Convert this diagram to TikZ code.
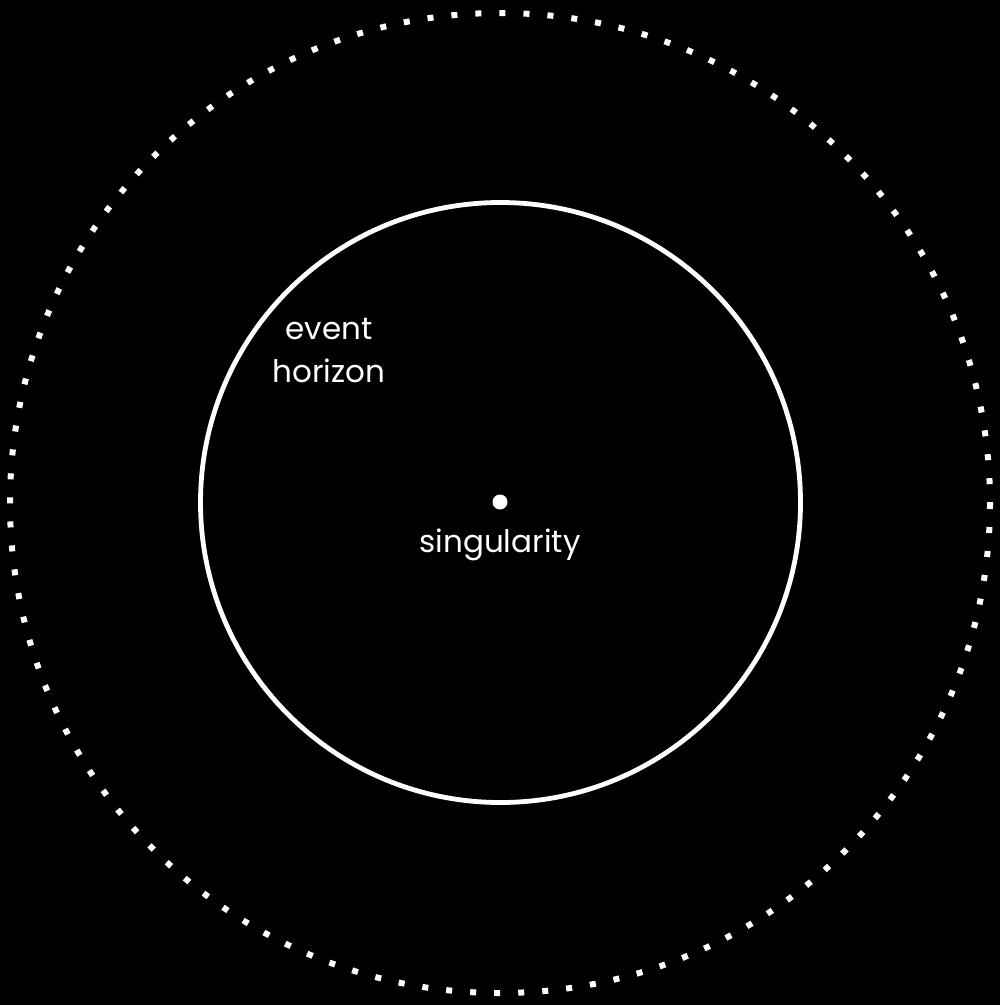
\documentclass[tikz,border=0pt]{standalone}
\usepackage{fontspec}
\setmainfont{Poppins}
\begin{document}
\begin{tikzpicture}[x=1pt,y=-1pt,
  lbl/.style={text=white,font=\fontsize{31}{44}\selectfont,inner sep=0pt,anchor=base}]
\useasboundingbox[fill=black] (0,0) rectangle (1000,1005);
\coordinate (c) at (500,503);
\draw[white,line width=6pt,dash pattern=on 6pt off 18.05pt] (c) circle[radius=490];
\draw[white,line width=4.8pt] (500.5,502.5) circle[radius=300];
\node[circle,fill=white,inner sep=0pt,minimum size=15pt] (sing) at (500,502) {};
\node[lbl] (singlbl) at (500,552) {singularity};
\node[lbl] (eh1) at (329,339) {event};
\node[lbl] (eh2) at (329,382) {horizon};
\end{tikzpicture}
\end{document}
